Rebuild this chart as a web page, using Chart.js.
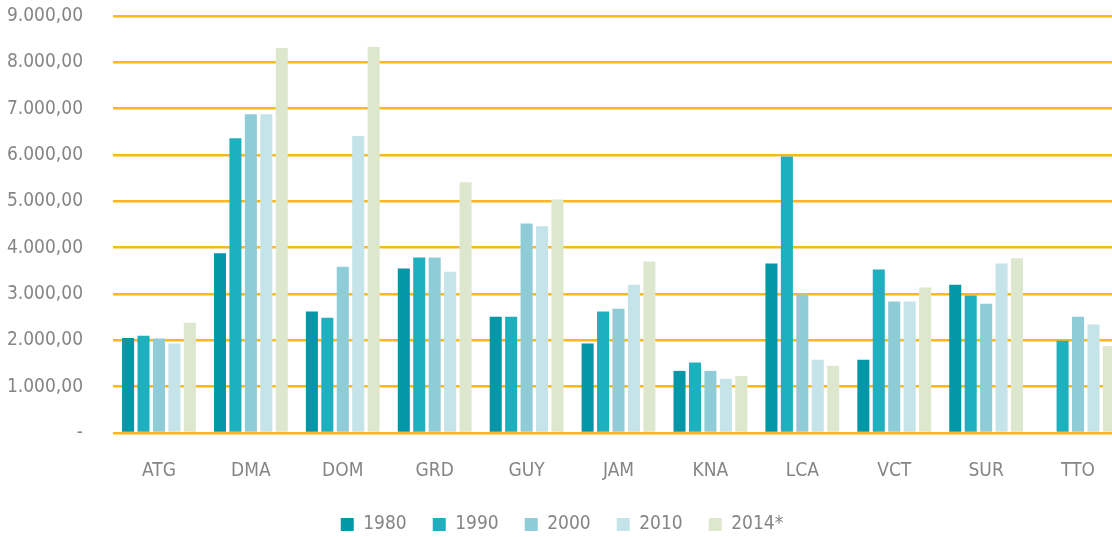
<!DOCTYPE html>
<html>
<head>
<meta charset="utf-8">
<script src="https://cdn.jsdelivr.net/npm/chart.js@4"></script>
<style>
  html, body { margin: 0; padding: 0; background: #fff; overflow: hidden; }
  .wrap { width: 1112px; height: 537px; overflow: hidden; }
  .box { width: 1124px; height: 537px; }
</style>
</head>
<body>
<div class="wrap"><div class="box"><canvas id="chart"></canvas></div></div>
<script>
// country codes along the x axis
const countries = ["ATG", "DMA", "DOM", "GRD", "GUY", "JAM", "KNA", "LCA", "VCT", "SUR", "TTO"];
const years = ["1980", "1990", "2000", "2010", "2014*"];

// values
const v1980 = [2050, 3880, 2620, 3550, 2510, 1930, 1340, 3660, 1580, 3200, 0];
const v1990 = [2100, 6360, 2490, 3790, 2510, 2620, 1520, 5970, 3530, 2970, 1990];
const v2000 = [2040, 6880, 3590, 3790, 4520, 2680, 1340, 2990, 2840, 2790, 2510];
const v2010 = [1930, 6880, 6410, 3480, 4460, 3200, 1170, 1580, 2840, 3660, 2340];
const v2014 = [2380, 8310, 8330, 5410, 5040, 3700, 1230, 1450, 3140, 3770, 1880];

const colors = ["#0397a8", "#1eb0bf", "#8ecdd7", "#c5e4e9", "#dde7cd"];
const series = [v1980, v1990, v2000, v2010, v2014];

const fontFam = "'DejaVu Sans Condensed', 'Liberation Sans Narrow', sans-serif";
const grey = "#858585";

const fmt = (n) => {
  if (n === 0) return "-";
  const s = Math.round(n).toString().replace(/\B(?=(\d{3})+(?!\d))/g, ".");
  return s + ",00";
};

new Chart(document.getElementById("chart"), {
  type: "bar",
  data: {
    labels: countries,
    datasets: series.map((d, i) => ({
      label: years[i],
      data: d,
      backgroundColor: colors[i],
      borderWidth: 0,
      categoryPercentage: 0.84,
      barPercentage: 0.78,
    })),
  },
  options: {
    responsive: true,
    maintainAspectRatio: false,
    animation: false,
    layout: { padding: { top: 16, right: 0, left: 0, bottom: -7 } },
    plugins: {
      tooltip: { enabled: false },
      legend: {
        position: "bottom",
        labels: {
          boxWidth: 13,
          boxHeight: 13,
          padding: 26,
          color: grey,
          font: { family: fontFam, size: 19 },
        },
      },
    },
    scales: {
      x: {
        grid: { display: false, drawTicks: false },
        border: { display: false },
        ticks: { color: grey, padding: 27, font: { family: fontFam, size: 19 } },
        afterFit: (s) => { s.height = 56; },
      },
      y: {
        min: 0,
        max: 9000,
        border: { display: false },
        // invisible tick marks give the gap between labels and grid
        grid: { color: "#fbb81b", lineWidth: 2.5, drawTicks: true, tickLength: 28, tickColor: "rgba(0,0,0,0)" },
        ticks: {
          stepSize: 1000,
          padding: 2,
          color: grey,
          font: { family: fontFam, size: 19 },
          callback: (v) => fmt(v),
        },
        afterFit: (s) => { s.width = 113; },
      },
    },
  },
});
</script>
</body>
</html>
